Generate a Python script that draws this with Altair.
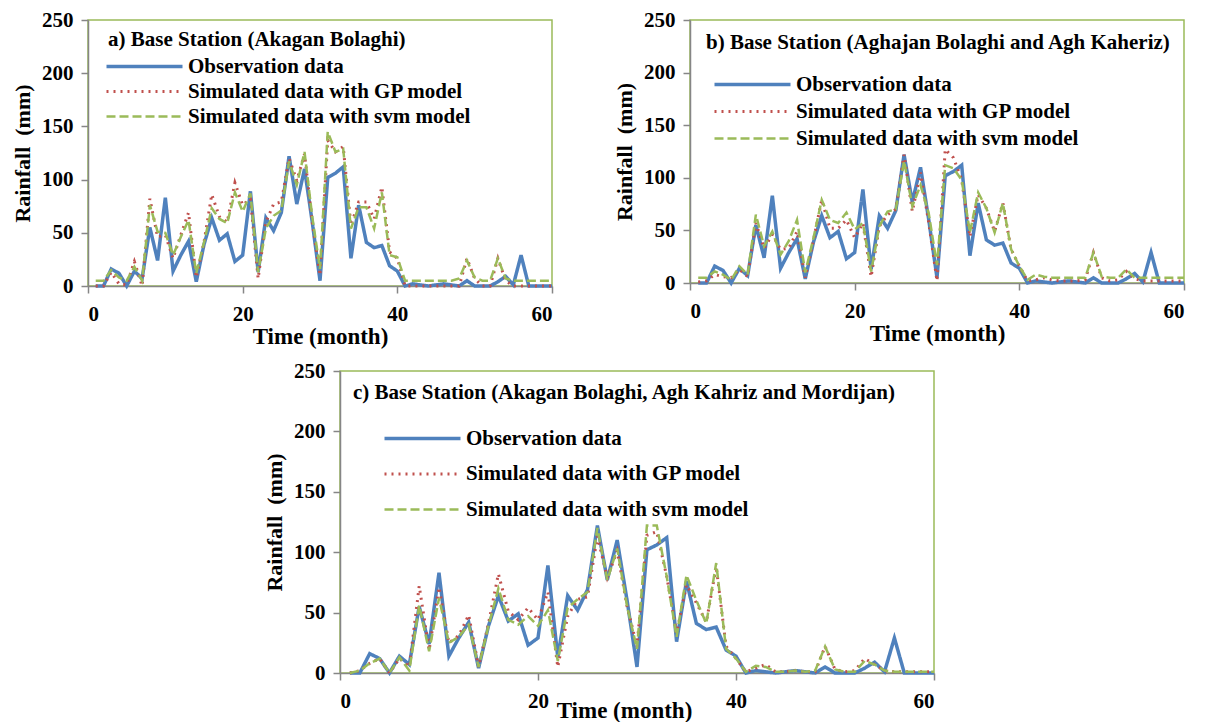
import altair as alt
import pandas as pd

MONTHS = list(range(1, 61))

OBS = [0, 0, 16, 12, 0, 14, 7, 55, 24, 83, 14, 29, 42, 4, 39, 64, 43, 49, 23, 29,
       89, 13, 64, 52, 69, 122, 77, 110, 60, 5, 102, 106, 112, 26, 76, 41, 36, 38, 19, 14,
       0, 2, 1, 0, 1, 2, 1, 0, 5, 0, 0, 0, 4, 9, 1, 29, 0, 0, 0, 0]

GP_A = [0, 0, 13, 2, 1, 23, 0, 82, 46, 48, 26, 48, 69, 8, 41, 86, 65, 60, 97, 76,
        82, 7, 60, 77, 79, 120, 99, 124, 60, 10, 137, 126, 131, 57, 79, 79, 63, 93, 32, 26,
        0, 0, 0, 0, 0, 0, 0, 0, 26, 7, 0, 0, 26, 5, 0, 0, 0, 0, 0, 0]
SVM_A = [5, 5, 15, 8, 5, 18, 5, 76, 51, 50, 29, 46, 62, 12, 41, 73, 63, 59, 88, 70,
         87, 13, 54, 66, 71, 117, 95, 126, 65, 16, 145, 126, 129, 54, 74, 74, 54, 88, 29, 27,
         5, 5, 5, 5, 5, 5, 5, 7, 24, 8, 5, 5, 26, 7, 5, 5, 5, 5, 5, 5]

GP_B = [1, 2, 8, 6, 5, 13, 6, 57, 33, 46, 32, 33, 49, 5, 41, 79, 52, 52, 60, 43,
        57, 6, 54, 65, 70, 122, 68, 105, 57, 2, 127, 119, 98, 44, 84, 71, 49, 76, 32, 16,
        2, 3, 5, 3, 2, 2, 2, 3, 29, 5, 2, 3, 11, 4, 2, 2, 2, 2, 2, 2]
SVM_B = [5, 5, 11, 8, 3, 16, 8, 65, 35, 49, 27, 40, 60, 10, 43, 79, 60, 57, 67, 51,
         57, 11, 54, 68, 70, 116, 73, 93, 66, 17, 112, 109, 98, 48, 86, 71, 48, 76, 32, 16,
         3, 8, 6, 5, 5, 5, 5, 5, 29, 6, 5, 5, 13, 5, 5, 5, 5, 5, 5, 5]

GP_C = [0, 2, 8, 12, 0, 12, 5, 72, 19, 71, 25, 31, 48, 5, 41, 82, 51, 44, 54, 44,
        67, 5, 47, 61, 63, 113, 79, 101, 55, 22, 114, 117, 80, 33, 73, 58, 42, 88, 22, 12,
        1, 4, 7, 1, 1, 2, 1, 1, 22, 3, 1, 2, 12, 7, 2, 1, 1, 1, 1, 1]
SVM_C = [0, 2, 8, 12, 0, 13, 2, 56, 18, 62, 25, 30, 40, 5, 39, 70, 44, 40, 47, 39,
         52, 10, 54, 61, 67, 120, 77, 103, 55, 20, 122, 122, 80, 30, 81, 60, 41, 91, 20, 12,
         1, 6, 5, 1, 1, 2, 1, 2, 22, 3, 1, 1, 10, 7, 2, 1, 1, 1, 1, 1]

SERIES = ["Observation data", "Simulated data with GP model", "Simulated data with svm model"]
COLORS = ["#4F81BD", "#C0504D", "#9BBB59"]
DASHES = [[1, 0], [2, 5], [9, 4]]
WIDTHS = [3.5, 2.5, 3.5]
X_TICKS = [0, 20, 40, 60]
Y_TICKS = [0, 50, 100, 150, 200, 250]
TITLES = ["a) Base Station (Akagan Bolaghi)",
          "b) Base Station (Aghajan Bolaghi and Agh Kaheriz)",
          "c) Base Station (Akagan Bolaghi, Agh Kahriz and Mordijan)"]
X_TITLE = "Time (month)"
Y_TITLE = "Rainfall\u00a0 (mm)"

FONT = "Liberation Serif"


def panel(gp, svm, title, w, h, lx, ly, rowpad, tx, ty, xlabel_pad, xtitle_pad, xtitle_x):
    df = pd.DataFrame({
        "month": MONTHS * 3,
        "value": OBS + gp + svm,
        "series": [SERIES[0]] * 60 + [SERIES[1]] * 60 + [SERIES[2]] * 60,
    })
    leg = alt.Legend(title=None, orient="none", legendX=lx, legendY=ly,
                     rowPadding=rowpad)
    lines = alt.Chart(df).mark_line().encode(
        x=alt.X("month:Q", scale=alt.Scale(domain=[0, 60], nice=False),
                axis=alt.Axis(values=X_TICKS, title=X_TITLE, grid=False,
                              labelPadding=xlabel_pad, titlePadding=xtitle_pad,
                              titleX=xtitle_x)),
        y=alt.Y("value:Q", scale=alt.Scale(domain=[0, 250], nice=False),
                axis=alt.Axis(values=Y_TICKS, title=Y_TITLE, grid=False)),
        color=alt.Color("series:N", scale=alt.Scale(domain=SERIES, range=COLORS), legend=leg),
        strokeDash=alt.StrokeDash("series:N", scale=alt.Scale(domain=SERIES, range=DASHES), legend=leg),
        strokeWidth=alt.StrokeWidth("series:N", scale=alt.Scale(domain=SERIES, range=WIDTHS), legend=None),
    )
    label = alt.Chart(pd.DataFrame({"t": [title]})).mark_text(
        align="left", baseline="middle", font=FONT, fontSize=21, fontWeight="bold", color="black"
    ).encode(text="t:N", x=alt.value(tx), y=alt.value(ty))
    return alt.layer(lines, label).properties(width=w, height=h)


pa = panel(GP_A, SVM_A, TITLES[0], 464, 266, 14, 36, 3, 20, 20, 10, 1, 232)
pb = panel(GP_B, SVM_B, TITLES[1], 494, 263, 20, 54, 5, 16, 23, 10, 1, 247)
pc = panel(GP_C, SVM_C, TITLES[2], 594, 302, 40, 57, 13.5, 13, 22, 10, -12, 284)

spacer = alt.Chart(pd.DataFrame({"s": [0]})).mark_point(opacity=0).encode(
    x=alt.value(0), y=alt.value(0)
).properties(width=252, height=10, view=alt.ViewBackground(strokeOpacity=0))

IND = dict(color="independent", strokeDash="independent", strokeWidth="independent")

top = alt.hconcat(pa, pb, spacing=138, bounds="flush").resolve_scale(**IND).resolve_legend(
    color="independent", strokeDash="independent")
bottom = alt.hconcat(spacer, pc, spacing=0, bounds="flush").resolve_scale(**IND).resolve_legend(
    color="independent", strokeDash="independent")

chart = alt.vconcat(top, bottom, spacing=10).resolve_scale(**IND).resolve_legend(
    color="independent", strokeDash="independent"
).properties(
    padding={"left": 2, "top": 0, "right": 0, "bottom": 0}
).configure_axis(
    labelFont=FONT, labelFontSize=21, labelFontWeight="bold", labelColor="black",
    titleFont=FONT, titleFontWeight="bold", titleColor="black",
    domainColor="#868686", tickColor="#868686", domainWidth=1.5, tickWidth=1.5, tickSize=7,
).configure_axisY(labelPadding=8, titlePadding=7, titleFontSize=22).configure_axisX(
    titleFontSize=23
).configure_view(
    stroke="#9BBB59", strokeWidth=1.5
).configure_legend(
    labelFont=FONT, labelFontSize=21, labelFontWeight="bold", labelColor="black",
    symbolType="M-7.6,0H7.6", symbolSize=100, symbolStrokeWidth=3.5, symbolOffset=32,
    labelLimit=1000, labelOffset=33, padding=0
)

chart.save("out.html", embed_options={"renderer": "svg", "actions": False})
